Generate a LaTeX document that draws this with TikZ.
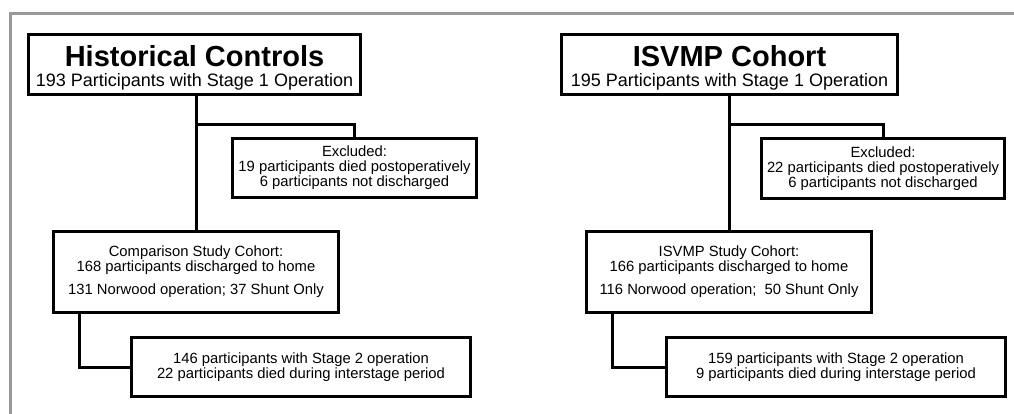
\documentclass[tikz,border=0pt]{standalone}
\usepackage{fontspec}
\setmainfont{Liberation Sans}
\tikzset{
  box/.style={draw=black, line width=3pt, fill=white, align=center, inner sep=0pt, text=black},
  conn/.style={draw=black, line width=3pt},
  frameline/.style={draw=black!40, line width=3pt},
  small/.style={font=\fontsize{14.8}{15}\selectfont},
}
\begin{document}
\begin{tikzpicture}[x=1pt,y=-1pt]
\useasboundingbox (0,0) rectangle (1014,414);
% gray frame
\coordinate (f1) at (10,414);
\coordinate (f2) at (10,14);
\coordinate (f3) at (1014,14);
\draw[frameline] (f1) -- (f2) -- (f3);

% left column
\node[box, minimum width=332pt, minimum height=60pt] (HC) at (194.5,64.5)
  {\fontsize{29}{29}\selectfont\bfseries\rule{0pt}{28pt}Historical Controls\\[5pt]
   \fontsize{18}{18}\selectfont 193 Participants with Stage 1 Operation};
\node[box, small, minimum width=244pt, minimum height=59pt] (EL) at (354.5,168)
  {Excluded:\\19 participants died postoperatively\\6 participants not discharged};
\node[box, small, minimum width=285pt, minimum height=81pt] (CL) at (196,272)
  {Comparison Study Cohort:\\168 participants discharged to home\\[8pt]131 Norwood operation; 37 Shunt Only};
\node[box, small, minimum width=339pt, minimum height=59pt] (SL) at (301,367)
  {146 participants with Stage 2 operation\\22 participants died during interstage period};

% right column
\node[box, minimum width=336pt, minimum height=60pt] (HR) at (729.5,64.5)
  {\fontsize{29}{29}\selectfont\bfseries\rule{0pt}{28pt}ISVMP Cohort\\[5pt]
   \fontsize{18}{18}\selectfont 195 Participants with Stage 1 Operation};
\node[box, small, minimum width=243pt, minimum height=60pt] (ER) at (883,168.5)
  {Excluded:\\22 participants died postoperatively\\6 participants not discharged};
\node[box, small, minimum width=285pt, minimum height=81pt] (CR) at (729,272)
  {ISVMP Study Cohort:\\166 participants discharged to home\\[8pt]116 Norwood operation;\ \ 50 Shunt Only};
\node[box, small, minimum width=339pt, minimum height=59pt] (SR) at (836,367)
  {159 participants with Stage 2 operation\\9 participants died during interstage period};

% connectors left
\coordinate (bL) at (196,125);
\draw[conn] (HC.south -| CL.north) -- (CL.north);
\draw[conn] (bL) -| (EL.north);
\draw[conn] ([xshift=27.5pt]CL.south west) |- (SL.west);
% connectors right
\coordinate (bR) at (729,125);
\draw[conn] (HR.south -| CR.north) -- (CR.north);
\draw[conn] (bR) -| (ER.north);
\draw[conn] ([xshift=27.5pt]CR.south west) |- (SR.west);
\end{tikzpicture}
\end{document}
